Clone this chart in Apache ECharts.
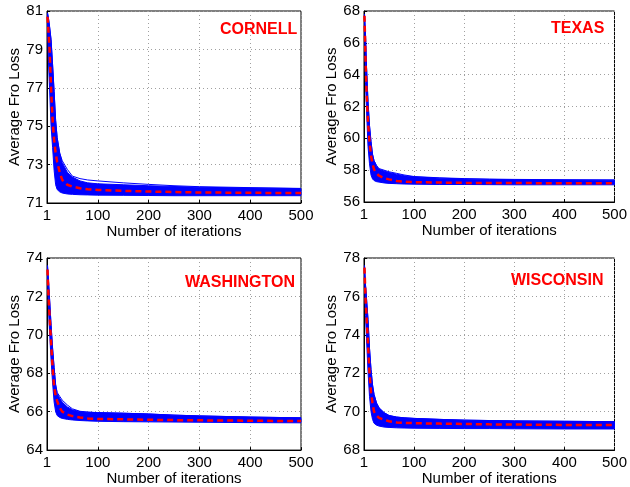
<!DOCTYPE html>
<html>
<head>
<meta charset="utf-8">
<script src="https://cdn.jsdelivr.net/npm/echarts@6/dist/echarts.min.js"></script>
<style>
html,body{margin:0;padding:0;background:#fff;}
#chart{width:630px;height:487px;}
</style>
</head>
<body>
<div id="chart"></div>
<script>
// ---- data ----
const iterations = [1, 3, 5, 8, 11, 14, 17, 20, 25, 30, 40, 50, 65, 80, 100, 150, 200, 250, 300, 400, 500];
const xTickLabels = ['1', '100', '200', '300', '400', '500'];
const panelNames = ['CORNELL', 'TEXAS', 'WASHINGTON', 'WISCONSIN'];

// CORNELL
const cornellUpper   = [80.9, 80.6, 80.2, 79.5, 78.2, 76.8, 75.3, 74.4, 73.6, 73.1, 72.6, 72.35, 72.15, 72.05, 72.0, 71.95, 71.9, 71.86, 71.82, 71.78, 71.75];
const cornellLower   = [80.2, 78.3, 77.0, 75.0, 73.9, 72.7, 71.95, 71.7, 71.58, 71.52, 71.47, 71.45, 71.43, 71.42, 71.41, 71.4, 71.39, 71.38, 71.38, 71.38, 71.38];
const cornellOutlier = [80.9, 80.6, 80.2, 79.5, 78.2, 76.8, 75.3, 74.4, 73.6, 73.2, 72.75, 72.4, 72.27, 72.2, 72.15, 72.05, 71.97, 71.9, 71.85, 71.8, 71.76];
const cornellMean    = [80.7, 79.9, 79.0, 77.0, 75.3, 74.3, 73.6, 73.15, 72.6, 72.2, 71.95, 71.85, 71.77, 71.72, 71.68, 71.63, 71.6, 71.57, 71.55, 71.53, 71.52];

// TEXAS
const texasUpper   = [67.8, 66.5, 64.5, 62.3, 60.8, 59.8, 59.0, 58.6, 58.25, 58.05, 57.95, 57.85, 57.75, 57.65, 57.58, 57.5, 57.45, 57.42, 57.4, 57.38, 57.37];
const texasLower   = [67.5, 63.5, 61.8, 59.5, 58.4, 57.7, 57.45, 57.35, 57.28, 57.25, 57.2, 57.17, 57.15, 57.13, 57.12, 57.1, 57.1, 57.09, 57.08, 57.08, 57.08];
const texasOutlier = [67.8, 66.5, 64.5, 62.3, 60.8, 59.8, 59.0, 58.6, 58.3, 58.1, 58.0, 57.9, 57.8, 57.7, 57.6, 57.52, 57.47, 57.44, 57.42, 57.4, 57.39];
const texasMean    = [67.7, 65.0, 63.0, 61.0, 59.8, 58.9, 58.4, 58.05, 57.8, 57.65, 57.5, 57.42, 57.32, 57.28, 57.25, 57.22, 57.2, 57.2, 57.19, 57.18, 57.18];

// WASHINGTON
const washingtonUpper   = [73.6, 72.8, 71.9, 70.5, 69.3, 68.3, 67.4, 66.95, 66.7, 66.5, 66.25, 66.1, 66.0, 65.97, 65.95, 65.92, 65.88, 65.82, 65.78, 65.72, 65.68];
const washingtonLower   = [73.2, 71.3, 70.2, 68.7, 67.5, 66.5, 66.0, 65.8, 65.7, 65.65, 65.6, 65.57, 65.54, 65.52, 65.5, 65.48, 65.47, 65.46, 65.45, 65.43, 65.42];
const washingtonOutlier = [73.6, 72.8, 71.9, 70.5, 69.3, 68.3, 67.4, 67.0, 66.8, 66.6, 66.35, 66.15, 66.02, 65.98, 65.95, 65.92, 65.88, 65.82, 65.78, 65.72, 65.68];
const washingtonMean    = [73.4, 72.0, 71.0, 69.6, 68.3, 67.3, 66.85, 66.55, 66.2, 66.0, 65.85, 65.77, 65.7, 65.65, 65.62, 65.6, 65.58, 65.56, 65.55, 65.53, 65.51];

// WISCONSIN
const wisconsinUpper   = [77.6, 76.6, 75.9, 74.8, 73.3, 72.2, 71.4, 70.9, 70.45, 70.2, 69.95, 69.8, 69.72, 69.68, 69.65, 69.6, 69.56, 69.54, 69.52, 69.5, 69.48];
const wisconsinLower   = [77.3, 75.0, 73.8, 72.1, 70.8, 70.0, 69.6, 69.4, 69.3, 69.25, 69.2, 69.18, 69.16, 69.15, 69.14, 69.13, 69.12, 69.12, 69.11, 69.1, 69.1];
const wisconsinOutlier = [77.6, 76.6, 75.9, 74.8, 73.3, 72.2, 71.4, 70.9, 70.45, 70.2, 69.95, 69.8, 69.72, 69.68, 69.65, 69.6, 69.56, 69.54, 69.52, 69.5, 69.48];
const wisconsinMean    = [77.5, 75.9, 75.0, 73.5, 72.0, 71.0, 70.45, 70.0, 69.8, 69.68, 69.58, 69.5, 69.44, 69.42, 69.4, 69.38, 69.36, 69.34, 69.33, 69.31, 69.3];

const yMins = [71, 56, 64, 68];
const yMaxs = [81, 68, 74, 78];
const yStep = 2;
const xMin = 0, xMax = 500, xStep = 100;

const uppers = [cornellUpper, texasUpper, washingtonUpper, wisconsinUpper];
const lowers = [cornellLower, texasLower, washingtonLower, wisconsinLower];
const outliers = [cornellOutlier, texasOutlier, washingtonOutlier, wisconsinOutlier];
const means = [cornellMean, texasMean, washingtonMean, wisconsinMean];

// ---- layout ----
const grids = [
  {left: 47, top: 11, width: 254, height: 192},
  {left: 364, top: 11, width: 253, height: 191},
  {left: 47, top: 258, width: 254, height: 193},
  {left: 364, top: 258, width: 253, height: 193}
];
const titlePos = [
  {left: 220, top: 22},
  {left: 551, top: 21},
  {left: 185, top: 275},
  {left: 511, top: 273}
];

const FONT = '"Liberation Sans", Arial, Helvetica, sans-serif';
const BLUE = '#0000ff';
const RED = '#ff0000';

const pairs = (ys) => iterations.map((x, i) => [x, ys[i]]);

const option = {
  animation: false,
  backgroundColor: '#ffffff',
  title: panelNames.map((n, i) => ({
    text: n, left: titlePos[i].left, top: titlePos[i].top, padding: 0,
    textStyle: {color: RED, fontSize: 16, fontWeight: 'bold', fontFamily: FONT}
  })),
  grid: grids.map(g => Object.assign({show: true, borderColor: '#000', borderWidth: 1, backgroundColor: 'transparent'}, g)),
  xAxis: grids.map((g, i) => ({
    type: 'value', gridIndex: i, min: xMin, max: xMax, interval: xStep,
    name: 'Number of iterations', nameLocation: 'middle', nameGap: 16,
    nameTextStyle: {fontSize: 15, color: '#000', fontFamily: FONT},
    axisLine: {show: true, onZero: false, lineStyle: {color: '#000', width: 1}},
    axisTick: {show: true, inside: true, length: 3, lineStyle: {color: '#000'}},
    axisLabel: {fontSize: 15, color: '#000', fontFamily: FONT, margin: 5,
      formatter: (v) => xTickLabels[Math.round((v - xMin) / xStep)]},
    splitLine: {show: true, lineStyle: {color: '#a0a0a0', type: [1, 3], width: 1}}
  })),
  yAxis: grids.map((g, i) => ({
    type: 'value', gridIndex: i, min: yMins[i], max: yMaxs[i], interval: yStep,
    name: 'Average Fro Loss', nameLocation: 'middle', nameGap: 24,
    nameTextStyle: {fontSize: 15, color: '#000', fontFamily: FONT},
    axisLine: {show: true, onZero: false, lineStyle: {color: '#000', width: 1}},
    axisTick: {show: true, inside: true, length: 3, lineStyle: {color: '#000'}},
    axisLabel: {fontSize: 15, color: '#000', fontFamily: FONT, margin: 4},
    splitLine: {show: true, lineStyle: {color: '#a0a0a0', type: [1, 3], width: 1}}
  })),
  series: []
};

for (let i = 0; i < 4; i++) {
  const up = uppers[i], lo = lowers[i];
  // band of many runs: polygon between upper and lower envelope, placed via the axes' scales
  option.series.push({
    type: 'custom', xAxisIndex: i, yAxisIndex: i, silent: true, z: 2,
    data: [[iterations[0], up[0]]],
    renderItem: (params, api) => {
      const pts = [];
      for (let k = 0; k < iterations.length; k++) pts.push(api.coord([iterations[k], up[k]]));
      for (let k = iterations.length - 1; k >= 0; k--) pts.push(api.coord([iterations[k], lo[k]]));
      return {type: 'polygon', shape: {points: pts, smooth: 0}, style: {fill: BLUE, stroke: BLUE, lineWidth: 1}};
    }
  });
  option.series.push({
    type: 'line', xAxisIndex: i, yAxisIndex: i, symbol: 'none',
    data: pairs(outliers[i]), lineStyle: {color: BLUE, width: 1}, silent: true, z: 3
  });
  option.series.push({
    type: 'line', xAxisIndex: i, yAxisIndex: i, symbol: 'none',
    data: pairs(means[i]), lineStyle: {color: RED, width: 2.5, type: [6, 4]}, silent: true, z: 4
  });
}

const chart = echarts.init(document.getElementById('chart'), null, {renderer: 'canvas'});
chart.setOption(option);
</script>
</body>
</html>
